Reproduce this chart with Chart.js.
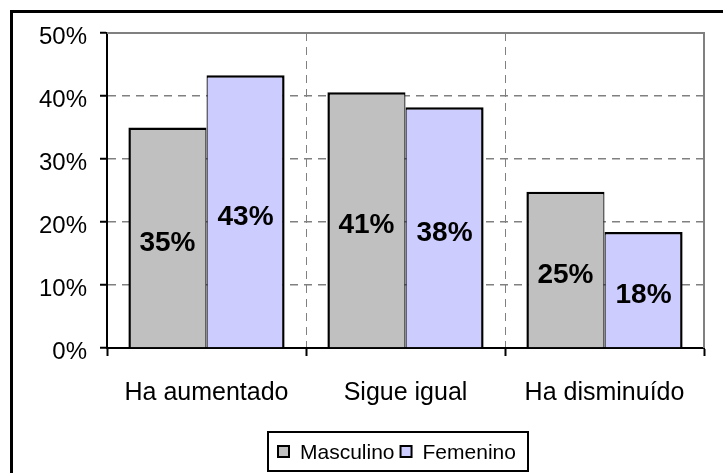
<!DOCTYPE html>
<html>
<head>
<meta charset="utf-8">
<script src="https://cdn.jsdelivr.net/npm/chart.js@4"></script>
<style>
  html, body { margin: 0; padding: 0; background: #fff; }
  #wrap { position: relative; width: 723px; height: 473px; }
</style>
</head>
<body>
<div id="wrap"><canvas id="chart"></canvas></div>
<script>
// Chart data
const categories = ['Ha aumentado', 'Sigue igual', 'Ha disminuído'];
const seriesNames = ['Masculino', 'Femenino'];
const masculino = [35.0, 40.6, 24.8];
const femenino = [43.3, 38.2, 18.4];
const seriesColors = ['#c0c0c0', '#ccccff'];
const yMin = 0, yMax = 50, yStep = 10;

const FONT = "'Liberation Sans', Arial, sans-serif";

// Outer frame (cropped on the right and bottom like the original)
const framePlugin = {
    id: 'frame',
    beforeDraw(chart) {
        const ctx = chart.ctx;
        ctx.save();
        ctx.fillStyle = '#000';
        ctx.fillRect(10, 10, chart.width, 3);
        ctx.fillRect(10, 10, 3, chart.height);
        ctx.restore();
    },
    // grey plot border on top and right
    afterDatasetsDraw(chart) {
        const a = chart.chartArea;
        const ctx = chart.ctx;
        ctx.save();
        ctx.strokeStyle = '#808080';
        ctx.lineWidth = 2;
        ctx.beginPath();
        ctx.moveTo(a.left, a.top);
        ctx.lineTo(a.right, a.top);
        ctx.lineTo(a.right, a.bottom);
        ctx.stroke();
        ctx.restore();
    }
};

// Value labels in the middle of each bar
const valueLabels = {
    id: 'valueLabels',
    afterDatasetsDraw(chart) {
        const ctx = chart.ctx;
        ctx.save();
        ctx.font = 'bold 28px ' + FONT;
        ctx.fillStyle = '#000';
        ctx.textAlign = 'center';
        ctx.textBaseline = 'middle';
        chart.data.datasets.forEach((ds, i) => {
            chart.getDatasetMeta(i).data.forEach((bar, j) => {
                const y = (bar.y + bar.base) / 2 + 6;
                ctx.fillText(Math.round(ds.data[j]) + '%', bar.x, y);
            });
        });
        ctx.restore();
    }
};

// Boxed legend at the bottom
const boxLegend = {
    id: 'boxLegend',
    afterDraw(chart) {
        const ctx = chart.ctx;
        const left = 268, top = 432, right = 528, bottom = 471;
        ctx.save();
        ctx.fillStyle = '#fff';
        ctx.fillRect(left, top, right - left, bottom - top);
        ctx.strokeStyle = '#000';
        ctx.lineWidth = 2;
        ctx.strokeRect(left, top, right - left, bottom - top);

        ctx.font = '21px ' + FONT;
        ctx.textBaseline = 'middle';
        ctx.textAlign = 'left';
        let x = 278;
        const cy = 452;
        chart.data.datasets.forEach(ds => {
            ctx.fillStyle = ds.backgroundColor;
            ctx.fillRect(x, cy - 6, 11, 11);
            ctx.strokeStyle = '#000';
            ctx.lineWidth = 2;
            ctx.strokeRect(x, cy - 6, 11, 11);
            ctx.fillStyle = '#000';
            ctx.fillText(ds.label, x + 22, cy + 1);
            x += 22 + ctx.measureText(ds.label).width + 6;
        });
        ctx.restore();
    }
};

const ctx = document.getElementById('chart').getContext('2d');
new Chart(ctx, {
    type: 'bar',
    data: {
        labels: categories,
        datasets: [
            {
                label: seriesNames[0],
                data: masculino,
                backgroundColor: seriesColors[0],
                borderColor: '#000',
                borderWidth: { top: 2.5, left: 2.5, right: 1.25, bottom: 0 },
                borderSkipped: false,
                inflateAmount: 0
            },
            {
                label: seriesNames[1],
                data: femenino,
                backgroundColor: seriesColors[1],
                borderColor: '#000',
                borderWidth: { top: 2.5, left: 1.25, right: 2.5, bottom: 0 },
                borderSkipped: false,
                inflateAmount: 0
            }
        ]
    },
    options: {
        responsive: true,
        maintainAspectRatio: false,
        animation: false,
        categoryPercentage: 0.785,
        barPercentage: 1,
        layout: { padding: { left: 0, top: 33, right: 19, bottom: 0 } },
        plugins: {
            legend: { display: false },
            tooltip: { enabled: false }
        },
        scales: {
            x: {
                afterFit(scale) { scale.height = 125; },
                grid: {
                    offset: true,
                    color: '#808080',
                    lineWidth: 1,
                    tickColor: '#000',
                    tickWidth: 2,
                    tickLength: 8,
                    tickBorderDash: []
                },
                border: { display: true, color: '#000', width: 2, dash: [8, 6] },
                ticks: {
                    color: '#000',
                    font: { family: FONT, size: 25 },
                    padding: 22,
                    maxRotation: 0,
                    autoSkip: false
                }
            },
            y: {
                min: yMin,
                max: yMax,
                afterFit(scale) { scale.width = 107; },
                grid: {
                    color: '#808080',
                    lineWidth: 1.5,
                    tickColor: '#000',
                    tickWidth: 2,
                    tickLength: 7,
                    tickBorderDash: []
                },
                border: { display: true, color: '#000', width: 2, dash: [8, 6] },
                ticks: {
                    stepSize: yStep,
                    color: '#000',
                    font: { family: FONT, size: 24 },
                    padding: 13,
                    labelOffset: 4,
                    callback: v => v + '%'
                }
            }
        }
    },
    plugins: [framePlugin, valueLabels, boxLegend]
});
</script>
</body>
</html>
